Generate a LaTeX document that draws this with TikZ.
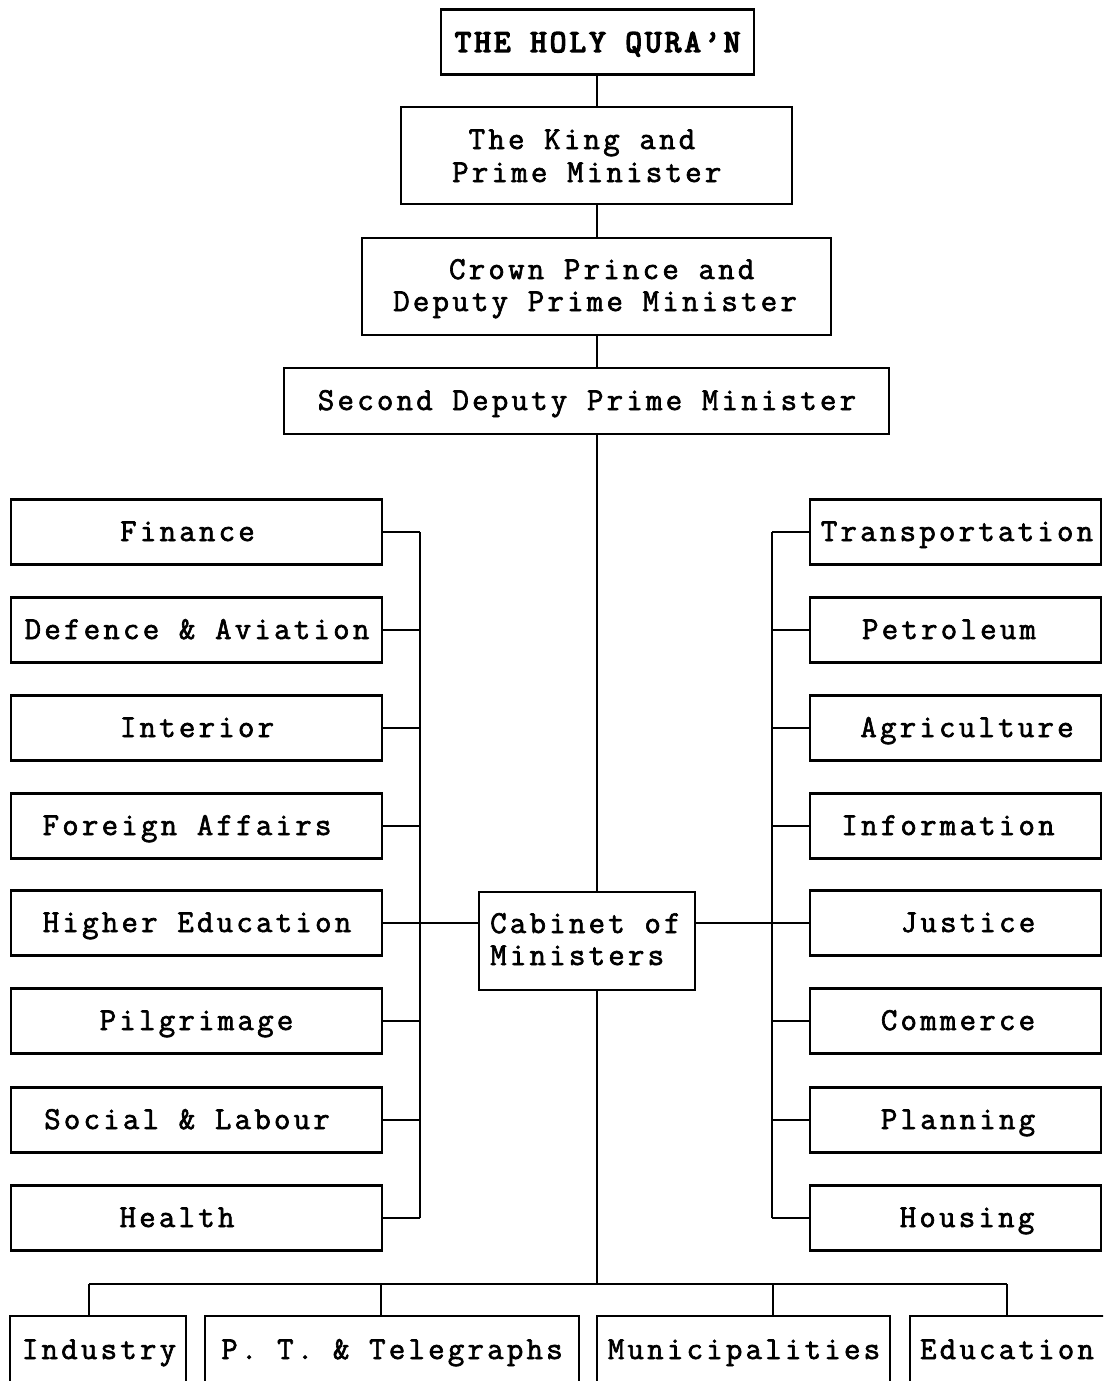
\documentclass[tikz,border=0pt]{standalone}
\usepackage{fontspec}
\newfontfamily\tw[FakeBold=2,LetterSpace=10]{Latin Modern Mono}
\newfontfamily\twb[FakeBold=4.5,LetterSpace=10]{Latin Modern Mono}
\begin{document}
\begin{tikzpicture}[x=1pt,y=-1pt,
  box/.style={draw, line width=2.4pt, rectangle, inner sep=0pt},
  lbox/.style={box, minimum width=371pt, minimum height=65pt},
  rbox/.style={box, minimum width=291pt, minimum height=65pt},
  bbox/.style={box, minimum height=104pt},
  lbl/.style={inner sep=0pt, anchor=base, font=\tw\fontsize{32}{34}\selectfont},
  wire/.style={line width=2.4pt}]
\clip (0,0) rectangle (1103,1381);
\fill[white] (0,0) rectangle (1103,1381);

% reference lines of the chart
\coordinate (spine) at (597,0);
\coordinate (busL) at (420,0);
\coordinate (busR) at (772,0);
\coordinate (dI) at (89,1284);
\coordinate (dP) at (381,1284);
\coordinate (dM) at (773,1284);
\coordinate (dE) at (1007,1284);

% top of the hierarchy
\node[box, minimum width=313pt, minimum height=65pt] (quran) at (597.5,42) {};
\node[lbl, font=\twb\fontsize{32}{34}\selectfont] (quran-t) at (597.5,52) {THE HOLY QURA’N};

\node[box, minimum width=391pt, minimum height=97pt] (king) at (596.5,155.5) {};
\node[lbl, anchor=base west] (king-t1) at (452,149) {\phantom{x}The King and};
\node[lbl, anchor=base west] (king-t2) at (452,182) {Prime Minister};

\node[box, minimum width=469pt, minimum height=97pt] (crown) at (596.5,286.5) {};
\node[lbl, anchor=base west] (crown-t1) at (393,279) {\phantom{xxx}Crown Prince and};
\node[lbl, anchor=base west] (crown-t2) at (393,311) {Deputy Prime Minister};

\node[box, minimum width=605pt, minimum height=66pt] (second) at (586.5,401) {};
\node[lbl] (second-t) at (587,410) {Second Deputy Prime Minister};

\node[box, minimum width=216pt, minimum height=98pt] (cabinet) at (587,941) {};
\node[lbl, anchor=base west] (cabinet-t1) at (490,933) {Cabinet of};
\node[lbl, anchor=base west] (cabinet-t2) at (490,965) {Ministers};

% left-hand ministries
\foreach \n/\y/\x/\t in {
  finance/532/187.5/Finance,
  defence/630/197/Defence \& Aviation,
  interior/728/197/Interior,
  foreign/826/187/Foreign Affairs,
  higher/923/197/Higher Education,
  pilgrim/1021/196.5/Pilgrimage,
  social/1120/187/Social \& Labour,
  health/1218/177/Health}{
  \node[lbox] (\n) at (196.5,\y) {};
  \node[lbl] (\n-t) at (\x,{\y+9}) {\t};
  \draw[wire] (\n.east) -- (\n.east -| busL);
}

% right-hand ministries
\foreach \n/\y/\x/\t in {
  transport/532/957/Transportation,
  petroleum/630/949/Petroleum,
  agri/728/967/Agriculture,
  info/826/948/Information,
  justice/923/968/Justice,
  commerce/1021/958/Commerce,
  planning/1120/958/Planning,
  housing/1218/967/Housing}{
  \node[rbox] (\n) at (955.5,\y) {};
  \node[lbl] (\n-t) at (\x,{\y+9}) {\t};
  \draw[wire] (\n.west) -- (\n.west -| busR);
}

% bottom row
\node[bbox, minimum width=176pt] (industry) at (98,1368) {};
\node[lbl] (industry-t) at (99,1359) {Industry};
\node[bbox, minimum width=374pt] (pt) at (392,1368) {};
\node[lbl] (pt-t) at (392,1359) {P. T. \& Telegraphs};
\node[bbox, minimum width=293pt] (muni) at (743.5,1368) {};
\node[lbl] (muni-t) at (744,1359) {Municipalities};
\node[bbox, minimum width=195pt] (educ) at (1007.5,1368) {};
\node[lbl] (educ-t) at (1007,1359) {Education};

% connectors
\draw[wire] (quran.south -| spine) -- (king.north -| spine);
\draw[wire] (king.south -| spine) -- (crown.north -| spine);
\draw[wire] (crown.south -| spine) -- (second.north -| spine);
\draw[wire] (second.south -| spine) -- (cabinet.north -| spine);
\draw[wire] (finance.east -| busL) -- (health.east -| busL);
\draw[wire] (transport.west -| busR) -- (housing.west -| busR);
\draw[wire] (higher.east) -- (higher.east -| cabinet.west);
\draw[wire] (cabinet.east |- justice.west) -- (justice.west);
\draw[wire] (cabinet.south -| spine) -- (spine |- dI);
\draw[wire] (dI) -- (dE);
\draw[wire] (dI) -- (dI |- industry.north);
\draw[wire] (dP) -- (dP |- pt.north);
\draw[wire] (dM) -- (dM |- muni.north);
\draw[wire] (dE) -- (dE |- educ.north);
\end{tikzpicture}
\end{document}
